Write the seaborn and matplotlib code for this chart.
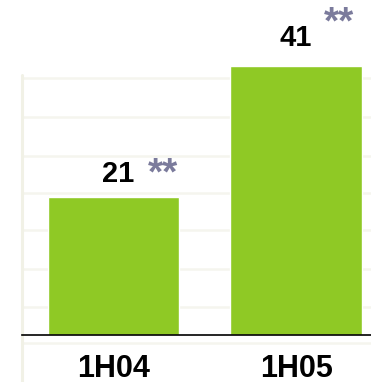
import matplotlib
matplotlib.use("Agg")
import matplotlib.pyplot as plt
import seaborn as sns
import pandas as pd
from matplotlib.lines import Line2D

# Half-year results
periods = ["1H04", "1H05"]
values = [21, 41]
notes = ["**", "**"]

bar_color = "#8fc925"
note_color = "#7b7b9c"

# label placement (points, relative to each bar top)
value_offsets = [(3.5, 11), (0, 14.5)]
note_offsets = [(36, 9), (31, 23.5)]

sns.set_theme(style="white")
plt.rcParams["font.family"] = ["Liberation Sans", "DejaVu Sans"]

df = pd.DataFrame({"period": periods, "value": values})

fig = plt.figure(figsize=(3.71, 3.82), dpi=100)
fig.patch.set_facecolor("white")

# faint ruled background behind the plot area
for yy in [78, 117, 156, 193, 230, 269, 307, 343]:
    fig.add_artist(Line2D([22 / 371, 1], [1 - yy / 382] * 2, transform=fig.transFigure,
                          color="#f5f5ee", lw=1.8, zorder=0))
fig.add_artist(Line2D([22 / 371] * 2, [0, 1 - 75 / 382], transform=fig.transFigure,
                      color="#f1f1e6", lw=2.2, zorder=0))

ax = fig.add_axes([22 / 371, 47 / 382, 1 - 22 / 371, 335 / 382])
ax.patch.set_alpha(0)

sns.barplot(data=df, x="period", y="value", color=bar_color, saturation=1,
            width=0.72, ax=ax, zorder=2)

ax.set_xlim(-0.5, 1.41)
ax.set_ylim(0, 51.1)

for i, (v, n) in enumerate(zip(values, notes)):
    ax.annotate(str(v), (i, v), xytext=value_offsets[i], textcoords="offset points",
                ha="center", va="baseline", fontsize=21, fontweight="bold", color="black")
    ax.annotate(n, (i, v), xytext=note_offsets[i], textcoords="offset points",
                ha="center", va="baseline", fontsize=28, fontweight="bold", color=note_color)

for s in ["top", "right", "left"]:
    ax.spines[s].set_visible(False)
ax.spines["bottom"].set_color("black")
ax.spines["bottom"].set_linewidth(1.2)

ax.set_yticks([])
ax.set_xlabel("")
ax.set_ylabel("")
ax.tick_params(axis="x", length=0, pad=14)
for lbl in ax.get_xticklabels():
    lbl.set_fontsize(22)
    lbl.set_fontweight("bold")
    lbl.set_color("black")

fig.savefig("out.png", dpi=100, facecolor="white")
